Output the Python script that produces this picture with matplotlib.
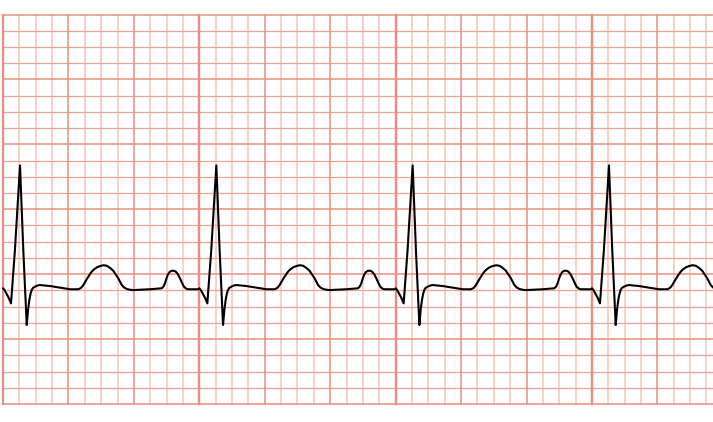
import numpy as np
import matplotlib.pyplot as plt

# one heartbeat, in small-grid units from the left edge of a strip
beat_x = [0.00, 0.09, 0.18, 0.34, 0.49, 0.73, 1.04, 1.24, 1.45, 1.53, 1.61, 1.68,
          1.75, 1.83, 1.96, 2.11, 2.26, 2.87, 3.48, 4.10, 4.60, 4.77, 4.91, 5.07,
          5.21, 5.38, 5.52, 5.72, 5.93, 6.14, 6.34, 6.54, 6.74, 6.87, 7.05, 7.16,
          7.26, 7.40, 7.56, 7.76, 7.96, 8.99, 9.70, 9.81, 9.90, 9.98, 10.07, 10.18,
          10.31, 10.45, 10.57, 10.70, 10.82, 10.94, 11.06, 11.19, 11.33, 11.94]
beat_y = [7.13, 7.02, 6.86, 6.56, 6.20, 9.49, 14.70, 9.49, 4.87, 5.79, 6.41, 6.78,
          7.02, 7.15, 7.23, 7.30, 7.33, 7.27, 7.17, 7.07, 7.07, 7.15, 7.33, 7.61,
          7.84, 8.10, 8.26, 8.41, 8.50, 8.55, 8.52, 8.39, 8.21, 8.01, 7.74, 7.52,
          7.33, 7.18, 7.09, 7.04, 7.02, 7.07, 7.13, 7.24, 7.44, 7.70, 7.95, 8.13,
          8.21, 8.21, 8.15, 7.98, 7.74, 7.47, 7.23, 7.11, 7.07, 7.07]

n_strips = 4
strip_w = 12      # small squares per strip
strip_h = 24
major_every = 4

major_col = '#e8907f'
minor_h_col = '#f0a497'
minor_v_col = '#f7cec7'

fig = plt.figure(figsize=(7.13, 4.22), dpi=100)
ax = fig.add_axes([3/713, 18/422, 710/713, 389.5/422])
ax.set_xlim(0, 710/16.36)
ax.set_ylim(0, strip_h)
ax.axis('off')

for s in range(n_strips):
    x0 = s*strip_w
    # vertical lines
    for k in range(strip_w + 1):
        if k % major_every == 0:
            lw = 1.6 if k in (0, strip_w) else 1.1
            ax.plot([x0+k, x0+k], [0, strip_h], color=major_col, lw=lw, clip_on=False, zorder=2)
        else:
            ax.plot([x0+k, x0+k], [0, strip_h], color=minor_v_col, lw=1.3, clip_on=False, zorder=1)
    # horizontal lines
    for j in range(strip_h + 1):
        if j % major_every == 0:
            ax.plot([x0, x0+strip_w], [j, j], color=major_col, lw=1.1, clip_on=False, zorder=2)
        else:
            ax.plot([x0, x0+strip_w], [j, j], color=minor_h_col, lw=0.9, clip_on=False, zorder=1)

    bx = np.array(beat_x) + x0
    ax.plot(bx, beat_y, color='black', lw=1.5, solid_joinstyle='round',
            solid_capstyle='round', clip_on=False, zorder=3)

fig.savefig('out.png', dpi=100)
